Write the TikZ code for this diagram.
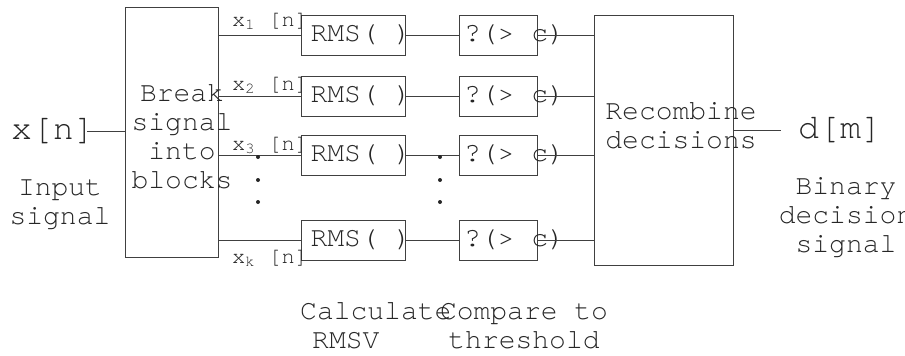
\documentclass[tikz,border=0pt]{standalone}
\usepackage{fontspec}
\setmainfont{TeX Gyre Cursor}
\usetikzlibrary{positioning, calc}

\begin{document}
\begin{tikzpicture}[
    x=1pt, y=-1pt,
    blk/.style={
        rectangle, draw=black!75, line width=1pt,
        inner sep=0pt
    },
    txt/.style={
        inner sep=0pt, align=center, text=black!85,
        font=\fontsize{28}{29}\selectfont
    },
    sig/.style={inner sep=0pt, text=black!85, font=\fontsize{35}{36}\selectfont},
    lbl/.style={inner sep=0pt, anchor=base west, text=black!85, font=\fontsize{22}{22}\selectfont},
    wire/.style={draw=black!75, line width=1pt},
]
\useasboundingbox (0,0) rectangle (905,356);

% Split and recombine blocks
\node[blk, minimum width=93pt, minimum height=250pt] (split) at (171.5,132) {};
\node[blk, minimum width=139pt, minimum height=250pt] (comb) at (663.5,140) {};
\node[txt] (splitt) at (182,137) {Break\\signal\\into\\blocks};
\node[txt] (combt) at (681,126) {Recombine\\decisions};

% One row per block: RMS, threshold, wires
\foreach \i/\r in {1/35, 2/96, 3/155, 4/240} {
    \node[blk, minimum width=104pt, minimum height=40pt] (rms\i) at (353,\r) {};
    \node[blk, minimum width=78pt, minimum height=40pt] (thr\i) at (498,\r) {};
    \node[txt] (rmst\i) at ([xshift=8pt]rms\i.center) {RMS( )};
    \node[txt] (thrt\i) at ([xshift=16.5pt]thr\i.center) {?(> c)};
    \draw[wire] (split.east |- rms\i.west) -- (rms\i.west);
    \draw[wire] (rms\i.east) -- (thr\i.west);
    \draw[wire] (thr\i.east) -- (thr\i.east -| comb.west);
}

% Block signal labels
\node[lbl] (xa) at (232,26) {x\textsubscript{1} [n]};
\node[lbl] (xb) at (232,90) {x\textsubscript{2} [n]};
\node[lbl] (xc) at (232,150) {x\textsubscript{3} [n]};
\node[lbl] (xd) at (232,263) {x\textsubscript{k} [n]};

% Vertical dots
\foreach \px in {258, 440}
    \foreach \py in {157, 180, 202}
        \fill[black!85] (\px,\py) circle (2pt);

% Input and output
\node[sig] (xin) at (53,131) {x[n]};
\draw[wire] ([xshift=-8pt]xin.east) -- (xin.east -| split.west);
\node[sig] (dout) at (840,130) {d[m]};
\draw[wire] (comb.east |- dout.west) -- ([xshift=-17pt]dout.west);

% Captions
\node[txt] (inl) at (60,205) {Input\\signal};
\node[txt] (outl) at (846,218) {Binary\\decision\\signal};
\node[txt, align=left, anchor=west] (rmsl) at (300,326) {Calculate\\\hspace*{12pt}RMSV};
\node[txt] (thrl) at (524,326) {Compare to\\threshold};

\end{tikzpicture}
\end{document}
